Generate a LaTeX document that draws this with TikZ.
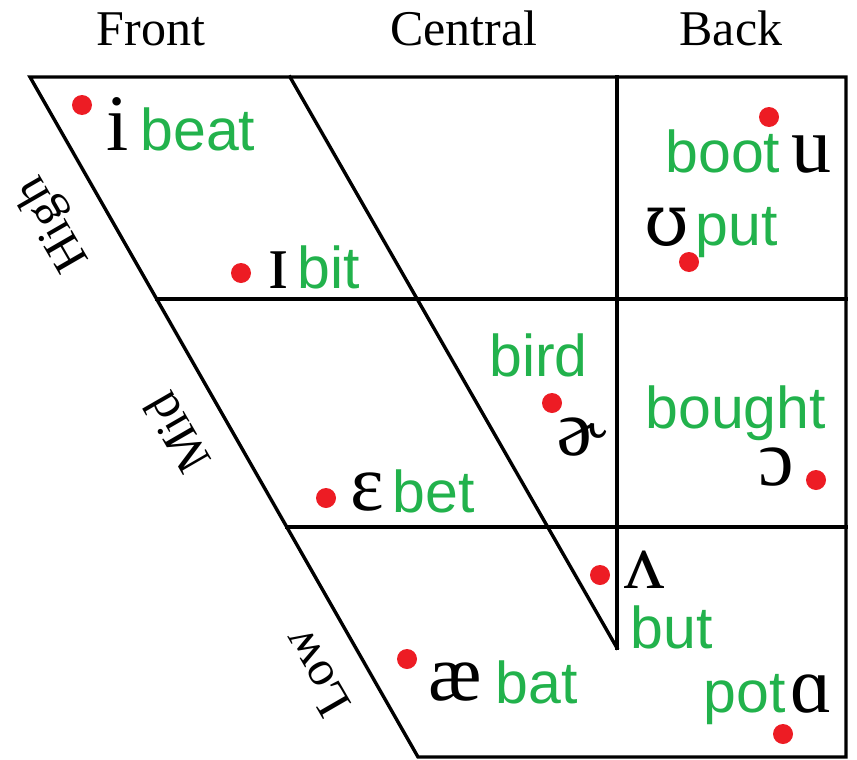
\documentclass[tikz,border=0pt]{standalone}
\usepackage{fontspec}
\setmainfont{Liberation Serif}
\newfontfamily\ipafont{Liberation Serif}
\newfontfamily\ipaalt{DejaVu Serif}
\newfontfamily\wordfont{Liberation Sans}
\definecolor{vred}{RGB}{237,28,36}
\definecolor{vgreen}{RGB}{34,178,76}
\begin{document}
\begin{tikzpicture}[x=0.5pt,y=-0.5pt,
  grid/.style={line width=1.7pt, black, line cap=rect},
  dotmark/.style={circle, fill=vred, inner sep=0pt, minimum size=10pt},
  ipa/.style={font={\ipafont\fontsize{40pt}{40pt}\selectfont}, inner sep=0pt, anchor=base west},
  word/.style={font={\wordfont\fontsize{29.5pt}{29.5pt}\selectfont}, text=vgreen, inner sep=0pt, anchor=base west},
  head/.style={font={\fontsize{25pt}{25pt}\selectfont}, inner sep=0pt, anchor=base},
  side/.style={font={\fontsize{25pt}{25pt}\selectfont}, inner sep=0pt, anchor=center, rotate=120}]
\useasboundingbox (0,0) rectangle (857,760);

% corners of the vowel quadrilateral
\coordinate (TL) at (30,77);
\coordinate (TR) at (846,77);
\coordinate (BR) at (846,757);
\coordinate (BL) at (418,757);
\coordinate (H1L) at (157,299);
\coordinate (H1R) at (846,299);
\coordinate (H2L) at (287,527);
\coordinate (H2R) at (846,527);
\coordinate (IT) at (290,77);
\coordinate (VT) at (617,77);
\coordinate (VB) at (617,648);

% outline and inner grid
\draw[grid] (TL) -- (TR) -- (BR) -- (BL) -- cycle;
\draw[grid] (H1L) -- (H1R);
\draw[grid] (H2L) -- (H2R);
\draw[grid] (IT) -- (VB);
\draw[grid] (VT) -- (VB);

% column headings
\node[head] (front) at (151,45) {Front};
\node[head] (central) at (464,45) {Central};
\node[head] (back) at (731,45) {Back};

% row labels along the slanted side
\node[side] (high) at (54,223) {High};
\node[side] (mid) at (177,433) {Mid};
\node[side] (low) at (316,673) {Low};

% vowel positions
\node[dotmark] (d-i) at (82,105) {};
\node[dotmark] (d-I) at (241,273) {};
\node[dotmark] (d-u) at (769,117) {};
\node[dotmark] (d-U) at (689,262) {};
\node[dotmark] (d-er) at (552,403) {};
\node[dotmark] (d-o) at (816,480) {};
\node[dotmark] (d-e) at (326,498) {};
\node[dotmark] (d-v) at (600,575) {};
\node[dotmark] (d-ae) at (407,659) {};
\node[dotmark] (d-a) at (783,734) {};

% symbols and key words
\node[ipa] (s-i) at (106,150) {i};
\node[word] (w-i) at (140,150) {beat};
\node[ipa] (s-I) at (267,288) {ɪ};
\node[word] (w-I) at (297,288) {bit};
\node[word] (w-u) at (665,172) {boot};
\node[ipa] (s-u) at (791,172) {u};
\node[ipa, font={\ipaalt\fontsize{36pt}{36pt}\selectfont}] (s-U) at (644,245) {ʊ};
\node[word] (w-U) at (695,245) {put};
\node[word] (w-er) at (489,376) {bird};
\node[ipa] (s-er) at (556,455) {ɚ};
\node[word] (w-o) at (645,428) {bought};
\node[ipa] (s-o) at (758,485) {ɔ};
\node[ipa] (s-e) at (350,510) {ɛ};
\node[word] (w-e) at (392,512) {bet};
\node[ipa] (s-v) at (624,588) {ʌ};
\node[word] (w-v) at (630,648) {but};
\node[ipa] (s-ae) at (428,700) {æ};
\node[word] (w-ae) at (495,703) {bat};
\node[word] (w-a) at (703,712) {pot};
\node[ipa] (s-a) at (790,712) {ɑ};
\end{tikzpicture}
\end{document}
